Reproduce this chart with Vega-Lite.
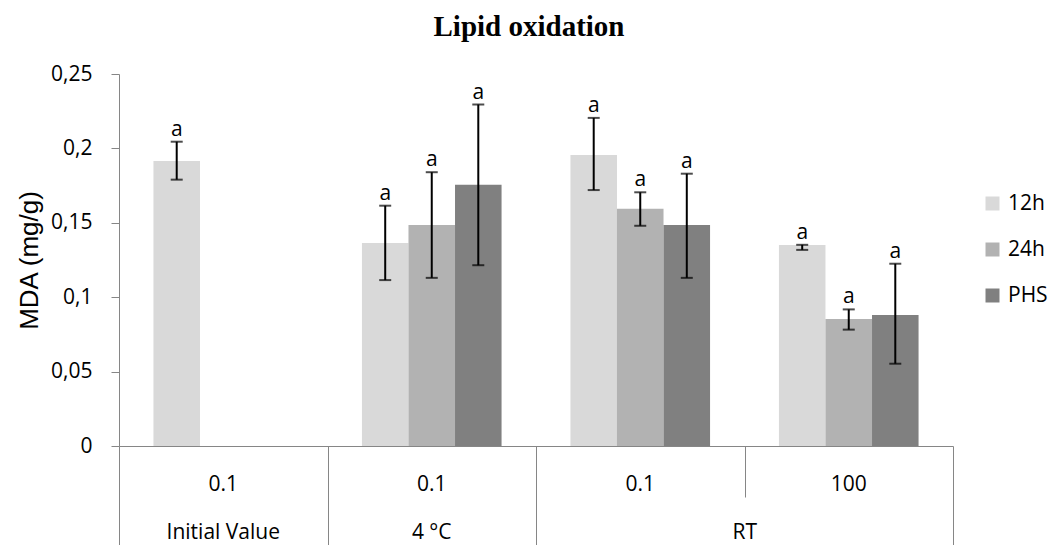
{
  "$schema": "https://vega.github.io/schema/vega-lite/v6.json",
  "autosize": {"type": "none"},
  "width": 834,
  "height": 372,
  "padding": {"left": 119, "top": 74, "right": 99, "bottom": 99},
  "background": "white",
  "title": {
    "text": "Lipid oxidation",
    "font": "Liberation Serif",
    "fontSize": 29,
    "fontWeight": "bold",
    "color": "black",
    "anchor": "middle",
    "dx": -7,
    "offset": 21
  },
  "config": {
    "view": {"stroke": null},
    "axis": {"domainColor": "#868686", "tickColor": "#868686", "grid": false}
  },
  "data": {
    "values": [
      {"group": "Initial Value 0.1", "series": "12h", "mda": 0.1915, "lo": 0.179, "hi": 0.2045, "letter": "a"},
      {"group": "4 °C 0.1", "series": "12h", "mda": 0.1365, "lo": 0.1115, "hi": 0.1615, "letter": "a"},
      {"group": "4 °C 0.1", "series": "24h", "mda": 0.1485, "lo": 0.113, "hi": 0.184, "letter": "a"},
      {"group": "4 °C 0.1", "series": "PHS", "mda": 0.1755, "lo": 0.1215, "hi": 0.2295, "letter": "a"},
      {"group": "RT 0.1", "series": "12h", "mda": 0.1955, "lo": 0.172, "hi": 0.2205, "letter": "a"},
      {"group": "RT 0.1", "series": "24h", "mda": 0.1595, "lo": 0.148, "hi": 0.1705, "letter": "a"},
      {"group": "RT 0.1", "series": "PHS", "mda": 0.1485, "lo": 0.113, "hi": 0.183, "letter": "a"},
      {"group": "RT 100", "series": "12h", "mda": 0.135, "lo": 0.1318, "hi": 0.1352, "letter": "a"},
      {"group": "RT 100", "series": "24h", "mda": 0.0853, "lo": 0.0782, "hi": 0.0918, "letter": "a"},
      {"group": "RT 100", "series": "PHS", "mda": 0.088, "lo": 0.0553, "hi": 0.1225, "letter": "a"}
    ]
  },
  "encoding": {
    "x": {
      "field": "group",
      "type": "nominal",
      "sort": ["Initial Value 0.1", "4 °C 0.1", "RT 0.1", "RT 100"],
      "scale": {"paddingInner": 0, "paddingOuter": 0}
    },
    "xOffset": {
      "field": "series",
      "type": "nominal",
      "sort": ["12h", "24h", "PHS"],
      "scale": {"domain": ["12h", "24h", "PHS"], "paddingInner": 0, "paddingOuter": 0.74}
    }
  },
  "layer": [
    {
      "mark": {"type": "bar"},
      "encoding": {
        "x": {
          "field": "group",
          "type": "nominal",
          "sort": ["Initial Value 0.1", "4 °C 0.1", "RT 0.1", "RT 100"],
          "axis": {
            "orient": "bottom",
            "title": null,
            "labels": false,
            "domain": true,
            "ticks": true,
            "tickBand": "extent",
            "tickWidth": 1,
            "tickSize": {"condition": {"test": "datum.value === 'RT 0.1'", "value": 51}, "value": 99}
          }
        },
        "y": {
          "field": "mda",
          "type": "quantitative",
          "scale": {"domain": [0, 0.25], "nice": false, "zero": true},
          "axis": {
            "title": "MDA (mg/g)",
            "titleFont": "Liberation Sans",
            "titleFontSize": 26,
            "titleFontWeight": "normal",
            "titleColor": "black",
            "titlePadding": 8,
            "values": [0, 0.05, 0.1, 0.15, 0.2, 0.25],
            "labelExpr": "replace(format(datum.value, '.2~f'), '.', ',')",
            "labelFont": "Open Sans",
            "labelFontSize": 21,
            "labelColor": "black",
            "labelPadding": 19,
            "tickSize": 8,
            "domainWidth": 1
          }
        },
        "color": {
          "field": "series",
          "type": "nominal",
          "scale": {"domain": ["12h", "24h", "PHS"], "range": ["#d9d9d9", "#b2b2b2", "#808080"]},
          "legend": {
            "title": null,
            "orient": "none",
            "legendX": 863,
            "legendY": 119,
            "padding": 0,
            "symbolType": "square",
            "symbolSize": 196,
            "symbolStrokeWidth": 0,
            "labelFont": "Open Sans",
            "labelFontSize": 21,
            "labelColor": "black",
            "labelOffset": 5,
            "rowPadding": 24
          }
        }
      }
    },
    {
      "mark": {"type": "rule", "color": "black", "strokeWidth": 2},
      "encoding": {
        "x": {
          "field": "group",
          "type": "nominal",
          "sort": ["Initial Value 0.1", "4 °C 0.1", "RT 0.1", "RT 100"],
          "axis": {
            "orient": "bottom",
            "title": null,
            "domain": false,
            "ticks": false,
            "labelExpr": "slice(datum.value, lastindexof(datum.value, ' ') + 1)",
            "labelFont": "Open Sans",
            "labelFontSize": 21,
            "labelColor": "black",
            "labelAngle": 0,
            "labelPadding": 27
          }
        },
        "y": {"field": "lo", "type": "quantitative"},
        "y2": {"field": "hi"}
      }
    },
    {
      "mark": {"type": "tick", "color": "black", "thickness": 2, "size": 12},
      "encoding": {
        "x": {
          "field": "group",
          "type": "nominal",
          "sort": ["Initial Value 0.1", "4 °C 0.1", "RT 0.1", "RT 100"],
          "axis": {
            "orient": "bottom",
            "title": null,
            "domain": false,
            "ticks": false,
            "values": ["Initial Value 0.1", "4 °C 0.1", "RT 100"],
            "labelExpr": "slice(datum.value, 0, lastindexof(datum.value, ' '))",
            "labelFont": "Open Sans",
            "labelFontSize": 21,
            "labelColor": "black",
            "labelAngle": 0,
            "labelPadding": 75,
            "labelOffset": {"condition": {"test": "datum.value === 'RT 100'", "value": -104}, "value": 0}
          }
        },
        "y": {"field": "lo", "type": "quantitative"}
      }
    },
    {
      "mark": {"type": "tick", "color": "black", "thickness": 2, "size": 12},
      "encoding": {
        "x": {"field": "group", "type": "nominal", "sort": ["Initial Value 0.1", "4 °C 0.1", "RT 0.1", "RT 100"], "axis": null},
        "y": {"field": "hi", "type": "quantitative"}
      }
    },
    {
      "mark": {"type": "text", "font": "Open Sans", "fontSize": 21, "color": "black", "baseline": "alphabetic", "dy": -6},
      "encoding": {
        "x": {"field": "group", "type": "nominal", "sort": ["Initial Value 0.1", "4 °C 0.1", "RT 0.1", "RT 100"], "axis": null},
        "y": {"field": "hi", "type": "quantitative"},
        "text": {"field": "letter"}
      }
    }
  ],
  "resolve": {"axis": {"x": "independent"}}
}
